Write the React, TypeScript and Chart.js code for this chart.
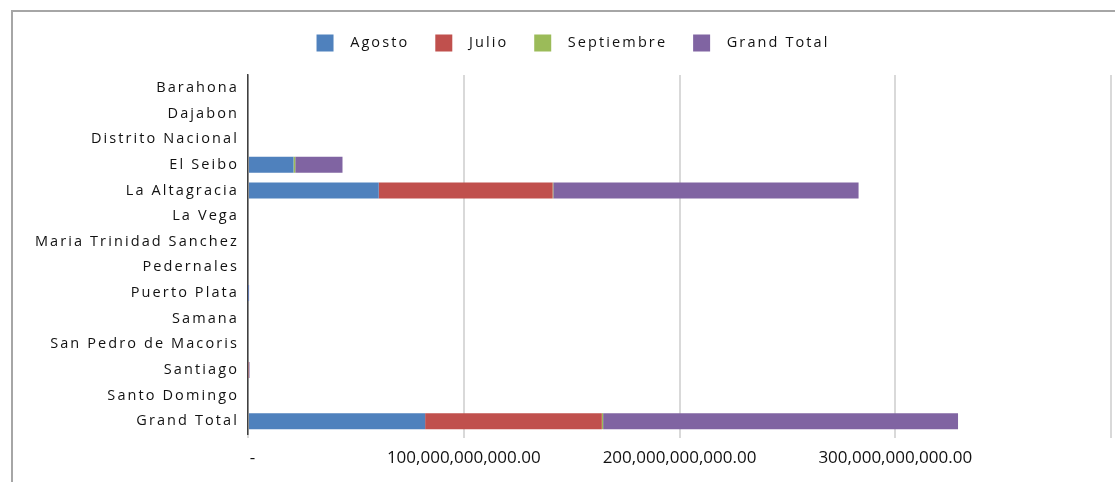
import React, { useEffect, useRef } from 'react';
import { Chart, registerables } from 'chart.js';

Chart.register(...registerables);

const categories = [
  'Barahona',
  'Dajabon',
  'Distrito Nacional',
  'El Seibo',
  'La Altagracia',
  'La Vega',
  'Maria Trinidad Sanchez',
  'Pedernales',
  'Puerto Plata',
  'Samana',
  'San Pedro de Macoris',
  'Santiago',
  'Santo Domingo',
  'Grand Total',
];

const seriesNames = ['Agosto', 'Julio', 'Septiembre', 'Grand Total'];
const agosto = [0, 0, 0, 21.1e9, 60.6e9, 0, 0, 0, 0.2e9, 0, 0, 0, 0, 82.1e9];
const julio = [0, 0, 0, 0, 80.6e9, 0, 0, 0, 0, 0, 0, 0.3e9, 0, 81.9e9];
const septiembre = [0, 0, 0, 0.8e9, 0.3e9, 0, 0, 0, 0, 0, 0, 0.05e9, 0, 0.6e9];
const grandTotal = [0, 0, 0, 21.9e9, 141.5e9, 0, 0, 0, 0.3e9, 0, 0, 0.35e9, 0, 164.5e9];

const xTickLabels = ['\u00a0\u00a0-', '100,000,000,000.00', '200,000,000,000.00', '300,000,000,000.00', ''];

const FONT = "'Open Sans', 'Noto Sans', sans-serif";
const LS = '2.1px';

const spacingPlugin: any = {
  id: 'letterSpacing',
  beforeUpdate(chart: any) {
    chart.ctx.letterSpacing = LS;
  },
  beforeLayout(chart: any) {
    chart.ctx.letterSpacing = LS;
  },
  afterLayout(chart: any) {
    const sc: any = chart.scales.x;
    if (sc && !sc._lsPatched) {
      const orig = sc.drawLabels.bind(sc);
      sc.drawLabels = (area: any) => {
        const c = chart.ctx;
        const prev = c.letterSpacing;
        c.letterSpacing = '0px';
        orig(area);
        c.letterSpacing = prev;
      };
      sc._lsPatched = true;
    }
  },
  beforeDraw(chart: any) {
    chart.ctx.letterSpacing = LS;
  },
};

export default function App() {
  const ref = useRef<HTMLCanvasElement | null>(null);

  useEffect(() => {
    if (!ref.current) return;
    const chart = new Chart(ref.current, {
      type: 'bar',
      data: {
        labels: categories,
        datasets: [
          { label: seriesNames[0], data: agosto, backgroundColor: '#4F81BD' },
          { label: seriesNames[1], data: julio, backgroundColor: '#C0504D' },
          { label: seriesNames[2], data: septiembre, backgroundColor: '#9BBB59' },
          { label: seriesNames[3], data: grandTotal, backgroundColor: '#8064A2' },
        ],
      },
      plugins: [spacingPlugin],
      options: {
        indexAxis: 'y',
        animation: false,
        responsive: false,
        maintainAspectRatio: false,
        layout: { padding: { left: 35, right: 4, top: 8.5, bottom: 8 } },
        datasets: {
          bar: { barPercentage: 0.625, categoryPercentage: 1, borderWidth: 0 },
        },
        plugins: {
          tooltip: { enabled: false },
          legend: {
            position: 'top',
            align: 'center',
            labels: {
              font: { family: FONT, size: 14.5 },
              color: '#111',
              boxWidth: 17,
              boxHeight: 17,
              padding: 26,
              generateLabels: (chart: any) => {
                const items = Chart.defaults.plugins.legend.labels.generateLabels(chart);
                return items.map((it: any) => ({ ...it, text: '\u2002' + it.text, lineWidth: 0 }));
              },
            },
          },
          subtitle: {
            display: true,
            text: '',
            position: 'top',
            weight: 500,
            font: { size: 10 },
            padding: { top: 0, bottom: 1.5 },
          } as any,
        },
        scales: {
          x: {
            stacked: true,
            min: 0,
            max: 400e9,
            afterFit(scale: any) {
              scale.height = 40;
              scale.paddingLeft = 0;
              scale.paddingRight = 0;
            },
            ticks: {
              stepSize: 100e9,
              maxRotation: 0,
              autoSkip: false,
              font: { family: FONT, size: 17 },
              color: '#111',
              padding: 10,
              callback: (_v: any, i: number) => xTickLabels[i] ?? '',
            },
            grid: {
              color: '#d9d9d9',
              lineWidth: 2,
              tickLength: 4,
              drawTicks: true,
            },
            border: { display: false },
          },
          y: {
            stacked: true,
            afterFit(scale: any) {
              scale.width = 213;
            },
            ticks: {
              font: { family: FONT, size: 14.5 },
              color: '#111',
              padding: 9,
              autoSkip: false,
            },
            grid: { display: false, drawTicks: false },
            border: { display: true, color: '#404040', width: 1.5 },
          },
        },
      } as any,
    });
    return () => chart.destroy();
  }, []);

  return (
    <div
      style={{
        position: 'fixed',
        left: 0,
        top: 0,
        width: 1115,
        height: 482,
        overflow: 'hidden',
        background: '#fff',
      }}
    >
      <div
        style={{
          position: 'absolute',
          left: 11,
          top: 10,
          width: 1300,
          height: 700,
          borderTop: '2px solid #a6a6a6',
          borderLeft: '2px solid #a6a6a6',
        }}
      />
      <canvas
        ref={ref}
        width={1115}
        height={482}
        style={{ position: 'absolute', left: 0, top: 0, width: 1115, height: 482 }}
      />
    </div>
  );
}
